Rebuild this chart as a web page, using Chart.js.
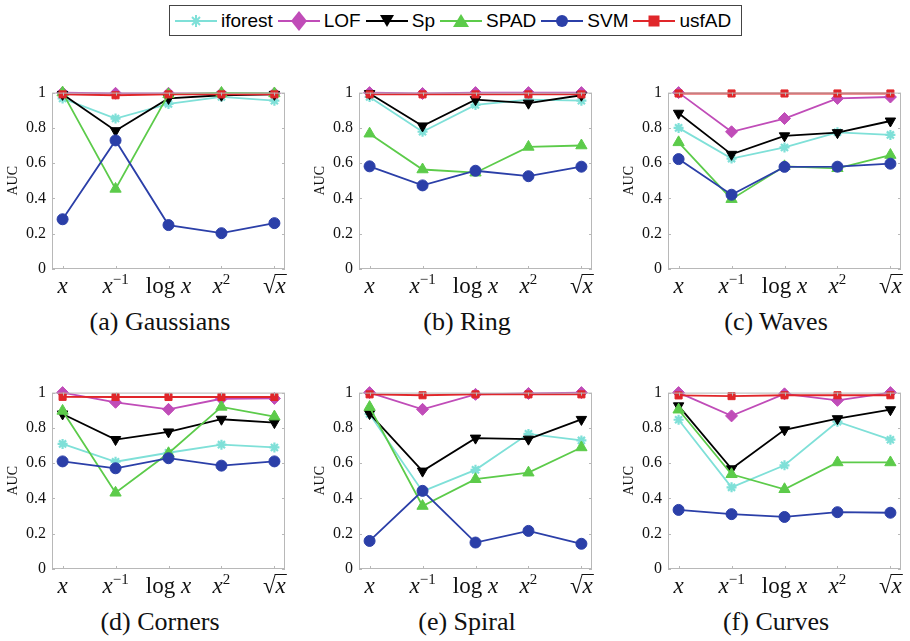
<!DOCTYPE html>
<html>
<head>
<meta charset="utf-8">
<script src="https://cdn.jsdelivr.net/npm/chart.js@4.4.1/dist/chart.umd.min.js"></script>
<style>
  body { margin: 0; background: #fff; width: 910px; height: 641px; position: relative; overflow: hidden; }
  .panel { position: absolute; }
  .cap { position: absolute; width: 300px; text-align: center; font-family: "Liberation Serif", serif; font-size: 26px; line-height: 30px; color: #111; }
  #legend { position: absolute; top: 5px; left: 169px; height: 31px; border: 1px solid #444; background: #fff;
            display: flex; align-items: center; font-family: "Liberation Sans", Arial, sans-serif; font-size: 19px; padding: 0 6px 0 4px; box-sizing: border-box; }
  #legend .it { display: flex; align-items: center; margin-right: 4px; }
  #legend svg { margin-right: 3px; }
</style>
</head>
<body>
<div id="legend"></div>

<canvas id="c0" class="panel"></canvas>
<canvas id="c1" class="panel"></canvas>
<canvas id="c2" class="panel"></canvas>
<canvas id="c3" class="panel"></canvas>
<canvas id="c4" class="panel"></canvas>
<canvas id="c5" class="panel"></canvas>

<script>
// data
const transforms = ["x", "x\u207B\u00B9", "log x", "x\u00B2", "\u221Ax"];
const methods = ["iforest", "LOF", "Sp", "SPAD", "SVM", "usfAD"];
const panelTitles = ["(a) Gaussians", "(b) Ring", "(c) Waves", "(d) Corners", "(e) Spiral", "(f) Curves"];

const gaussians = {
  iforest: [0.967, 0.853, 0.936, 0.976, 0.954],
  LOF:     [1.0, 0.996, 0.996, 0.996, 0.996],
  Sp:      [0.99, 0.784, 0.967, 0.985, 0.99],
  SPAD:    [1.0, 0.454, 0.99, 0.998, 0.995],
  SVM:     [0.282, 0.729, 0.249, 0.203, 0.26],
  usfAD:   [0.99, 0.985, 0.99, 0.99, 0.99]
};
const ring = {
  iforest: [0.975, 0.778, 0.93, 0.96, 0.954],
  LOF:     [1.0, 0.995, 1.0, 1.0, 1.0],
  Sp:      [0.995, 0.811, 0.96, 0.94, 0.985],
  SPAD:    [0.767, 0.564, 0.546, 0.692, 0.70],
  SVM:     [0.582, 0.474, 0.557, 0.526, 0.58],
  usfAD:   [0.99, 0.99, 0.99, 0.99, 0.99]
};
const waves = {
  iforest: [0.80, 0.626, 0.689, 0.775, 0.76],
  LOF:     [1.0, 0.778, 0.853, 0.967, 0.975],
  Sp:      [0.883, 0.65, 0.755, 0.773, 0.839],
  SPAD:    [0.718, 0.396, 0.582, 0.571, 0.646],
  SVM:     [0.623, 0.421, 0.579, 0.58, 0.597],
  usfAD:   [0.995, 0.995, 0.995, 0.995, 0.995]
};
const corners = {
  iforest: [0.709, 0.608, 0.659, 0.705, 0.689],
  LOF:     [1.0, 0.945, 0.905, 0.965, 0.967],
  Sp:      [0.879, 0.734, 0.777, 0.849, 0.83],
  SPAD:    [0.896, 0.432, 0.656, 0.919, 0.864],
  SVM:     [0.61, 0.571, 0.628, 0.586, 0.61],
  usfAD:   [0.976, 0.975, 0.975, 0.975, 0.975]
};
const spiral = {
  iforest: [0.879, 0.44, 0.562, 0.766, 0.729],
  LOF:     [1.0, 0.905, 0.99, 0.995, 1.0],
  Sp:      [0.881, 0.555, 0.742, 0.736, 0.848],
  SPAD:    [0.918, 0.357, 0.509, 0.546, 0.689],
  SVM:     [0.159, 0.443, 0.15, 0.216, 0.143],
  usfAD:   [0.99, 0.985, 0.99, 0.99, 0.99]
};
const curves = {
  iforest: [0.846, 0.463, 0.588, 0.835, 0.733],
  LOF:     [1.0, 0.868, 0.993, 0.956, 1.0],
  Sp:      [0.925, 0.568, 0.789, 0.852, 0.903],
  SPAD:    [0.903, 0.537, 0.452, 0.604, 0.604],
  SVM:     [0.335, 0.311, 0.295, 0.322, 0.319],
  usfAD:   [0.984, 0.98, 0.985, 0.985, 0.985]
};
const panelData = [gaussians, ring, waves, corners, spiral, curves];

// styles per method
const styles = {
  iforest: { color: "#7fe0d8", point: "star",     rot: 0,   r: 5 },
  LOF:     { color: "#c04cb8", point: "rectRot",  rot: 0,   r: 6 },
  Sp:      { color: "#000000", point: "triangle", rot: 180, r: 6 },
  SPAD:    { color: "#5ccb4a", point: "triangle", rot: 0,   r: 6.5 },
  SVM:     { color: "#2b3fa8", point: "circle",   rot: 0,   r: 5.5 },
  usfAD:   { color: "#e0262a", point: "rect",     rot: 0,   r: 5 }
};

const SERIF = "'Liberation Serif', 'Times New Roman', serif";

// legend
const legend = document.getElementById("legend");
methods.forEach(m => {
  const s = styles[m];
  const c = s.color;
  let mk = "";
  if (s.point === "star") mk = `<g stroke="${c}" stroke-width="2"><line x1="22" y1="5" x2="22" y2="17"/><line x1="16" y1="11" x2="28" y2="11"/><line x1="18" y1="7" x2="26" y2="15"/><line x1="26" y1="7" x2="18" y2="15"/></g>`;
  if (s.point === "rectRot") mk = `<polygon points="22,1 30,11 22,21 14,11" fill="${c}"/>`;
  if (s.point === "triangle" && s.rot === 180) mk = `<polygon points="15,5 29,5 22,17" fill="${c}"/>`;
  if (s.point === "triangle" && s.rot === 0) mk = `<polygon points="22,4 30,17 14,17" fill="${c}"/>`;
  if (s.point === "circle") mk = `<circle cx="22" cy="11" r="6" fill="${c}"/>`;
  if (s.point === "rect") mk = `<rect x="16.5" y="5.5" width="11" height="11" fill="${c}"/>`;
  legend.insertAdjacentHTML("beforeend",
    `<span class="it"><svg width="44" height="22"><line x1="1" y1="11" x2="43" y2="11" stroke="${c}" stroke-width="2"/>${mk}</svg>${m}</span>`);
});

// split a tick label into tex-like pieces (italic x, raised exponents, radical)
function labelParts(lbl) {
  if (lbl === "x") return [{ t: "x", it: true }];
  if (lbl.startsWith("log")) return [{ t: "log " }, { t: "x", it: true }];
  if (lbl.startsWith("\u221A")) return [{ t: "\u221A", rad: true }, { t: "x", it: true, bar: true }];
  if (lbl.includes("\u207B")) return [{ t: "x", it: true }, { t: "\u22121", sup: true }];
  if (lbl.includes("\u00B2")) return [{ t: "x", it: true }, { t: "2", sup: true }];
  return [{ t: lbl }];
}

function fontFor(p) {
  return (p.it ? "italic " : "") + (p.sup ? 15 : 23) + "px " + SERIF;
}

// box, inward ticks and math tick labels
const boxPlugin = {
  id: "box",
  afterDraw(chart) {
    const { ctx, chartArea: a, scales } = chart;
    ctx.save();
    ctx.strokeStyle = "#b8b8b8";
    ctx.lineWidth = 1;
    ctx.strokeRect(a.left + 0.5, a.top + 0.5, a.right - a.left - 1, a.bottom - a.top - 1);
    ctx.beginPath();
    scales.y.ticks.forEach(t => {
      const py = Math.round(scales.y.getPixelForValue(t.value)) + 0.5;
      ctx.moveTo(a.left, py); ctx.lineTo(a.left + 3, py);
      ctx.moveTo(a.right, py); ctx.lineTo(a.right - 3, py);
    });
    scales.x.ticks.forEach(t => {
      const px = Math.round(scales.x.getPixelForValue(t.value)) + 0.5;
      ctx.moveTo(px, a.bottom); ctx.lineTo(px, a.bottom - 3);
      ctx.moveTo(px, a.top); ctx.lineTo(px, a.top + 3);
    });
    ctx.stroke();

    // x tick labels
    ctx.fillStyle = "#111";
    ctx.strokeStyle = "#111";
    ctx.textBaseline = "alphabetic";
    ctx.textAlign = "left";
    const base = a.bottom + 24;
    scales.x.ticks.forEach(t => {
      const parts = labelParts(transforms[t.value - 1]);
      let w = 0;
      parts.forEach(p => { ctx.font = fontFor(p); p.w = ctx.measureText(p.t).width; w += p.w; });
      let x = scales.x.getPixelForValue(t.value) - w / 2;
      let radTop = 0;
      parts.forEach(p => {
        ctx.font = fontFor(p);
        const y = p.sup ? base - 9 : base;
        ctx.fillText(p.t, x, y);
        if (p.rad) radTop = base - ctx.measureText(p.t).actualBoundingBoxAscent + 0.5;
        if (p.bar) {
          ctx.lineWidth = 1;
          ctx.beginPath();
          ctx.moveTo(x - 1, radTop); ctx.lineTo(x + p.w + 1, radTop);
          ctx.stroke();
        }
        x += p.w;
      });
    });
    ctx.restore();
  }
};

const colLeft = [0, 307, 616];
const colWidth = [300, 300, 294];
const rowTop = [77, 377];

panelData.forEach((pd, k) => {
  const col = k % 3, row = Math.floor(k / 3);
  const cv = document.getElementById("c" + k);
  cv.style.left = colLeft[col] + "px";
  cv.style.top = rowTop[row] + "px";
  cv.width = colWidth[col];
  cv.height = 225;

  const cap = document.createElement("div");
  cap.className = "cap";
  cap.textContent = panelTitles[k];
  cap.style.left = (colLeft[col] + 160 - 150) + "px";
  cap.style.top = (rowTop[row] + 230) + "px";
  document.body.appendChild(cap);

  const datasets = methods.map((m, i) => ({
    label: m,
    data: pd[m].map((v, j) => ({ x: j + 1, y: v })),
    borderColor: styles[m].color,
    backgroundColor: styles[m].color,
    borderWidth: 1.8,
    pointStyle: styles[m].point,
    pointRotation: styles[m].rot,
    pointRadius: styles[m].r,
    pointBorderWidth: styles[m].point === "star" ? 2.2 : 1,
    tension: 0,
    clip: false,
    order: methods.length - i
  }));

  new Chart(cv, {
    type: "line",
    data: { datasets },
    options: {
      responsive: false,
      animation: false,
      events: [],
      layout: { padding: { top: 10, right: colWidth[col] - 285, left: 0, bottom: 0 } },
      plugins: { legend: { display: false }, tooltip: { enabled: false } },
      scales: {
        x: {
          type: "linear",
          min: 0.8, max: 5.2,
          grid: { display: false, drawTicks: false },
          border: { display: false },
          afterBuildTicks: s => { s.ticks = transforms.map((t, j) => ({ value: j + 1 })); },
          afterFit: s => { s.height = 33; },
          ticks: { display: false, autoSkip: false }
        },
        y: {
          min: 0, max: 1,
          grid: { display: false, drawTicks: false },
          border: { display: false },
          afterFit: s => { s.width = 52; },
          ticks: {
            stepSize: 0.2, padding: 6,
            color: "#111",
            font: { family: SERIF, size: 16 },
            callback: v => String(+v.toFixed(1))
          },
          title: {
            display: true, text: "AUC", color: "#111", padding: { top: 5, bottom: 0 },
            font: { family: SERIF, size: 14 }
          }
        }
      }
    },
    plugins: [boxPlugin]
  });
});
</script>
</body>
</html>
